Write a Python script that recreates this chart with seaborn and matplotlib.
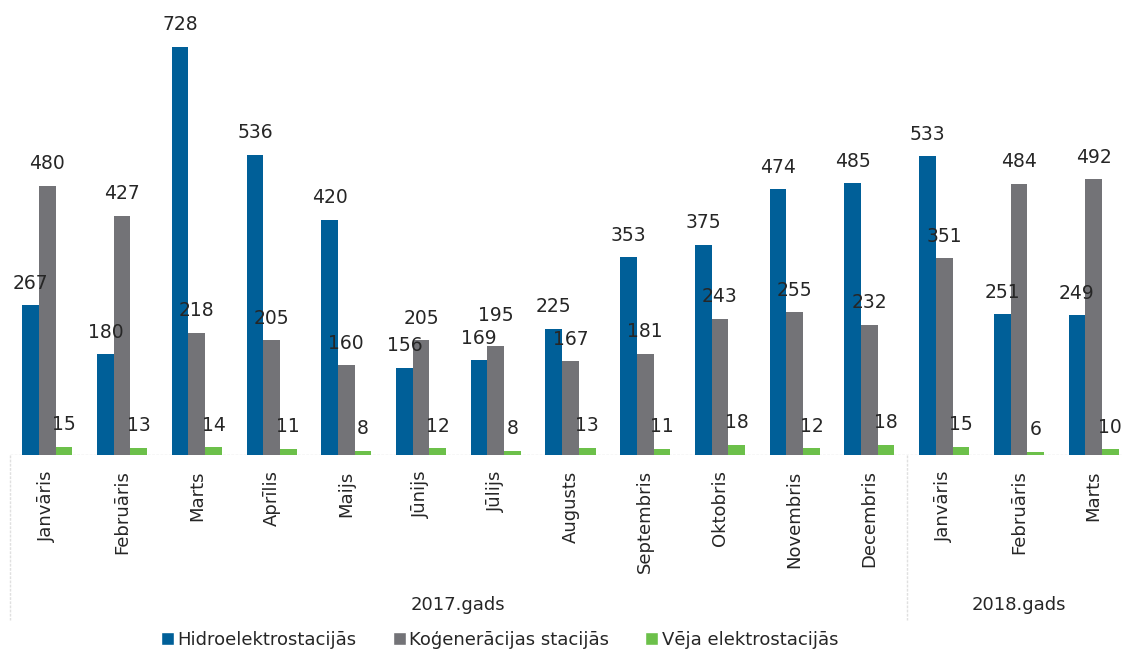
import matplotlib
matplotlib.use("Agg")
import matplotlib.pyplot as plt
import seaborn as sns
import pandas as pd
from matplotlib.patches import Patch

months = ["Janvāris", "Februāris", "Marts", "Aprīlis", "Maijs", "Jūnijs", "Jūlijs",
          "Augusts", "Septembris", "Oktobris", "Novembris", "Decembris",
          "Janvāris", "Februāris", "Marts"]
years = ["2017.gads"] * 12 + ["2018.gads"] * 3
series = ["Hidroelektrostacijās", "Koģenerācijas stacijās", "Vēja elektrostacijās"]
hidro = [267, 180, 728, 536, 420, 156, 169, 225, 353, 375, 474, 485, 533, 251, 249]
kogen = [480, 427, 218, 205, 160, 205, 195, 167, 181, 243, 255, 232, 351, 484, 492]
veja = [15, 13, 14, 11, 8, 12, 8, 13, 11, 18, 12, 18, 15, 6, 10]
colors = ["#005F98", "#737377", "#6CC04A"]

keys = [f"{y} {m}" for y, m in zip(years, months)]
rows = []
for name, vals in zip(series, [hidro, kogen, veja]):
    for k, v in zip(keys, vals):
        rows.append({"key": k, "series": name, "value": v})
df = pd.DataFrame(rows)

sns.set_theme(style="white")
plt.rcParams["font.family"] = ["DejaVu Sans"]

fig = plt.figure(figsize=(11.23, 6.53), dpi=100)
ax = fig.add_axes([10 / 1123, (653 - 455) / 653, (1131 - 10) / 1123, 455 / 653])

sns.barplot(data=df, x="key", y="value", hue="series", order=keys, hue_order=series,
            palette=colors, width=0.67, saturation=1, gap=0, ax=ax, legend=False,
            errorbar=None, linewidth=0, edgecolor="none")

label_sets = []
for cont in ax.containers:
    label_sets.append(ax.bar_label(cont, padding=9, fontsize=13.5, color="#262626"))
# nudge the crowded Jūlijs label up, as in the reference
label_sets[1][6].xyann = (0, 15)

ax.set_xlim(-0.5, 14.5)
ax.set_ylim(0, 455 / (408 / 728))
for s in ax.spines.values():
    s.set_visible(False)
ax.set_yticks([])
ax.set_ylabel("")
ax.set_xlabel("")
ax.set_xticks(range(len(months)))
ax.set_xticklabels(months, rotation=90, fontsize=13, color="#262626")
ax.tick_params(axis="x", length=0, pad=11)

ax.axhline(0, color="#d9d9d9", lw=1, ls=(0, (2, 1)), zorder=0)
yext = -(620 - 455) / 455
for xv in [-0.5, 11.5]:
    ax.plot([xv, xv], [0, yext], transform=ax.get_xaxis_transform(), color="#e0e0e0",
            lw=1, ls=(0, (2, 1)), clip_on=False)

gy = -(605 - 455) / 455
ax.text(5.5, gy, "2017.gads", transform=ax.get_xaxis_transform(), ha="center",
        va="center", fontsize=13, color="#262626")
ax.text(13, gy, "2018.gads", transform=ax.get_xaxis_transform(), ha="center",
        va="center", fontsize=13, color="#262626")

handles = [Patch(facecolor=c, label=n) for c, n in zip(colors, series)]
fig.legend(handles=handles, loc="center", bbox_to_anchor=(0.445, 1 - 640 / 653), ncol=3,
           frameon=False, fontsize=13, handlelength=0.7, handleheight=0.7,
           handletextpad=0.2, columnspacing=2.0, labelcolor="#262626")

fig.savefig("out.png", dpi=100)
